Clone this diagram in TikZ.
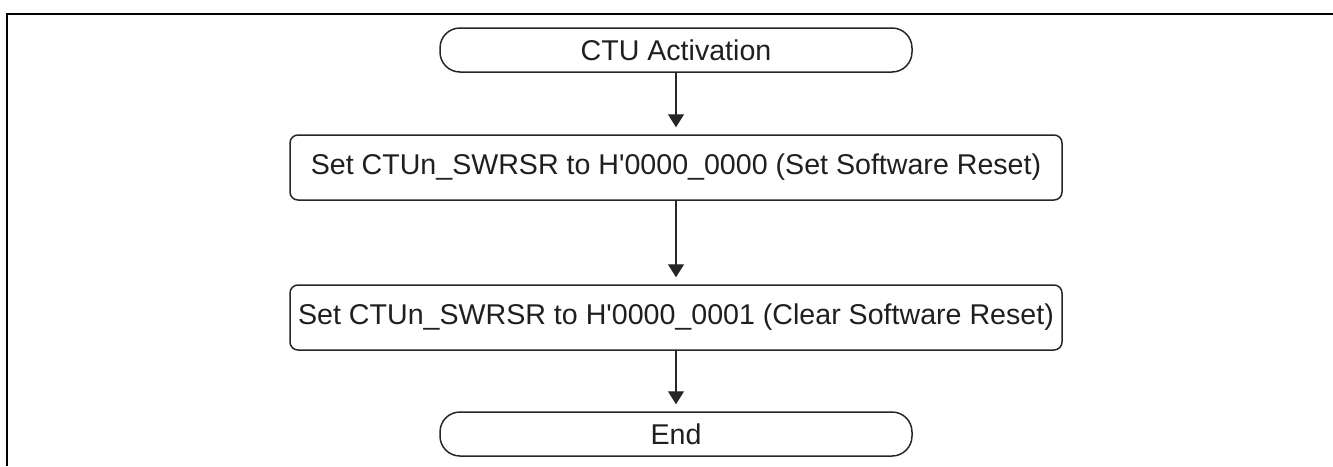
\documentclass[tikz,border=0pt]{standalone}
\usepackage{fontspec}
\setmainfont{Liberation Sans}
\usetikzlibrary{arrows.meta}
\definecolor{linec}{gray}{0.15}
\definecolor{textc}{gray}{0.12}
\begin{document}
\begin{tikzpicture}[x=1pt,y=-1pt,
  txt/.style={font=\fontsize{28.6}{34}\selectfont,text=textc,inner sep=0pt},
  term/.style={txt,draw=linec,line width=1.5pt,rounded corners=20pt,minimum width=472pt,minimum height=44pt},
  proc/.style={txt,draw=linec,line width=1.5pt,rounded corners=8pt,minimum width=772pt,minimum height=65pt},
  flow/.style={draw=linec,line width=1.3pt,-{Triangle[length=13pt,width=16pt]},shorten >=7pt},
  frame/.style={draw=black,line width=2.6pt}]
\useasboundingbox (0,0) rectangle (1333,466);
\draw[frame] (7,466) -- (7,14) -- (1340,14);
\node[term] (start) at (676,50) {CTU Activation};
\node[proc] (b1) at (676,167.5) {Set CTUn\_SWRSR to H\textquotesingle 0000\_0000 (Set Software Reset)};
\node[proc] (b2) at (676,317.5) {Set CTUn\_SWRSR to H\textquotesingle 0000\_0001 (Clear Software Reset)};
\node[term] (end) at (676,434) {End};
\draw[flow] (start) -- (b1);
\draw[flow] (b1) -- (b2);
\draw[flow] (b2) -- (end);
\end{tikzpicture}
\end{document}
